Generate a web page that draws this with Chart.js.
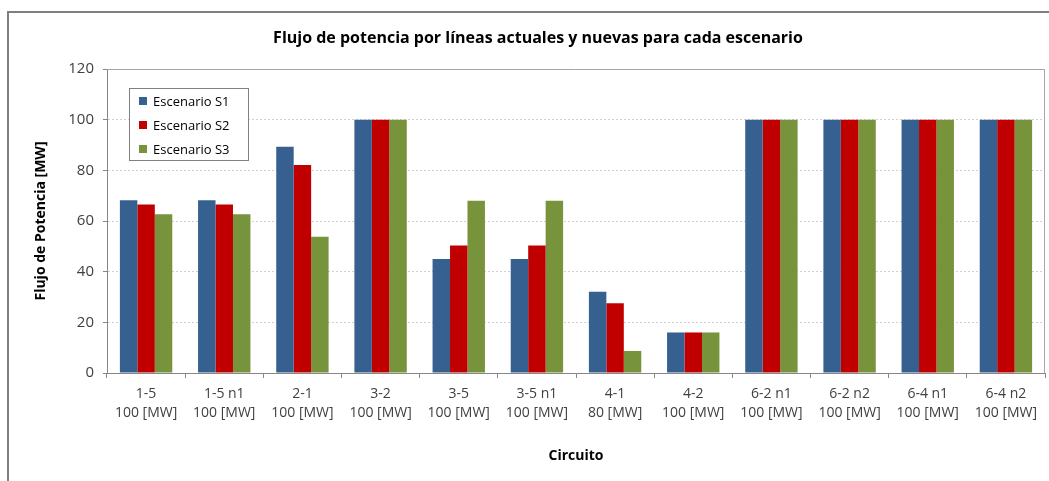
<!DOCTYPE html>
<html lang="es">
<head>
    <meta charset="UTF-8">
    <title>Flujo de potencia</title>
    <script src="https://cdn.jsdelivr.net/npm/chart.js@4.4.1/dist/chart.umd.min.js"></script>
    <style>
        body { margin: 0; background: #ffffff; }
        #wrap { position: relative; width: 1049px; height: 481px; }
    </style>
</head>
<body>
<div id="wrap"><canvas id="chart"></canvas></div>

<script>
    const circuitos = ['1-5', '1-5 n1', '2-1', '3-2', '3-5', '3-5 n1', '4-1', '4-2', '6-2 n1', '6-2 n2', '6-4 n1', '6-4 n2'];
    const capacidades = ['100 [MW]', '100 [MW]', '100 [MW]', '100 [MW]', '100 [MW]', '100 [MW]', '80 [MW]', '100 [MW]', '100 [MW]', '100 [MW]', '100 [MW]', '100 [MW]'];
    const escenarioS1 = [68.2, 68.2, 89.3, 100, 45.0, 45.0, 32.1, 16, 100, 100, 100, 100];
    const escenarioS2 = [66.5, 66.5, 82.1, 100, 50.3, 50.3, 27.5, 16, 100, 100, 100, 100];
    const escenarioS3 = [62.7, 62.7, 53.8, 100, 68.0, 68.0, 8.7, 16, 100, 100, 100, 100];
    const yTicks = [0, 20, 40, 60, 80, 100, 120];

    const fontFamily = "'Open Sans', sans-serif";

    // marco exterior + titulo + leyenda dentro del area
    const extras = {
        id: 'extras',
        beforeDraw(chart) {
            const ctx = chart.ctx;
            ctx.save();
            ctx.fillStyle = '#ffffff';
            ctx.fillRect(0, 0, chart.width, chart.height);
            ctx.strokeStyle = '#7f7f7f';
            ctx.lineWidth = 2;
            ctx.strokeRect(8, 12, chart.width + 20, chart.height + 20);
            ctx.restore();
        },
        afterDraw(chart) {
            const ctx = chart.ctx;
            const area = chart.chartArea;
            ctx.save();
            // titulo
            ctx.fillStyle = '#000000';
            ctx.font = 'bold 16px ' + fontFamily;
            ctx.textAlign = 'center';
            ctx.textBaseline = 'middle';
            ctx.fillText('Flujo de potencia por líneas actuales y nuevas para cada escenario', 538, 38);

            // borde del area de trazado
            ctx.strokeStyle = '#a6a6a6';
            ctx.lineWidth = 1;
            ctx.beginPath();
            ctx.moveTo(area.left, area.top + 0.5);
            ctx.lineTo(area.right - 0.5, area.top + 0.5);
            ctx.lineTo(area.right - 0.5, area.bottom);
            ctx.stroke();

            // leyenda
            const lx = area.left + 22, ly = area.top + 19;
            ctx.fillStyle = '#ffffff';
            ctx.fillRect(lx, ly, 119, 72);
            ctx.strokeStyle = '#808080';
            ctx.strokeRect(lx + 0.5, ly + 0.5, 119, 72);
            ctx.font = '13px ' + fontFamily;
            ctx.textAlign = 'left';
            chart.data.datasets.forEach((ds, i) => {
                const y = ly + 13 + i * 24;
                ctx.fillStyle = ds.backgroundColor;
                ctx.fillRect(lx + 10, y - 4, 8, 8);
                ctx.fillStyle = '#000000';
                ctx.fillText(ds.label, lx + 24, y + 1);
            });
            ctx.restore();
        }
    };

    const ctx = document.getElementById('chart').getContext('2d');
    new Chart(ctx, {
        type: 'bar',
        data: {
            labels: circuitos.map((c, i) => [c, capacidades[i]]),
            datasets: [
                { label: 'Escenario S1', data: escenarioS1, backgroundColor: '#36608f' },
                { label: 'Escenario S2', data: escenarioS2, backgroundColor: '#c00000' },
                { label: 'Escenario S3', data: escenarioS3, backgroundColor: '#77933c' }
            ]
        },
        options: {
            responsive: true,
            maintainAspectRatio: false,
            animation: false,
            layout: { padding: { top: 69, right: 4, left: 0, bottom: 0 } },
            datasets: { bar: { categoryPercentage: 0.67, barPercentage: 1.0 } },
            plugins: {
                legend: { display: false },
                title: { display: false },
                tooltip: { enabled: false }
            },
            scales: {
                x: {
                    afterFit: s => { s.height = 108; },
                    grid: {
                        drawOnChartArea: false,
                        color: '#868686',
                        tickLength: 5,
                        offset: true
                    },
                    border: { color: '#868686' },
                    ticks: {
                        color: '#404040',
                        font: { family: fontFamily, size: 14, lineHeight: 1.36 },
                        maxRotation: 0,
                        autoSkip: false,
                        padding: 6
                    },
                    title: {
                        display: true,
                        text: 'Circuito',
                        color: '#000000',
                        font: { family: fontFamily, size: 14, weight: 'bold' },
                        padding: { top: 0, bottom: 17 }
                    }
                },
                y: {
                    min: 0,
                    max: 120,
                    afterFit: s => { s.width = 107; },
                    afterBuildTicks: s => { s.ticks = yTicks.map(v => ({ value: v })); },
                    grid: {
                        color: '#d0d0d0',
                        tickLength: 4,
                        tickColor: '#868686',
                        drawTicks: true
                    },
                    border: { color: '#868686', dash: [2, 2] },
                    ticks: {
                        color: '#404040',
                        font: { family: fontFamily, size: 15 },
                        padding: 9
                    },
                    title: {
                        display: true,
                        text: 'Flujo de Potencia [MW]',
                        color: '#000000',
                        font: { family: fontFamily, size: 14, weight: 'bold' },
                        padding: { top: 33, bottom: 0 }
                    }
                }
            }
        },
        plugins: [extras]
    });
</script>
</body>
</html>
